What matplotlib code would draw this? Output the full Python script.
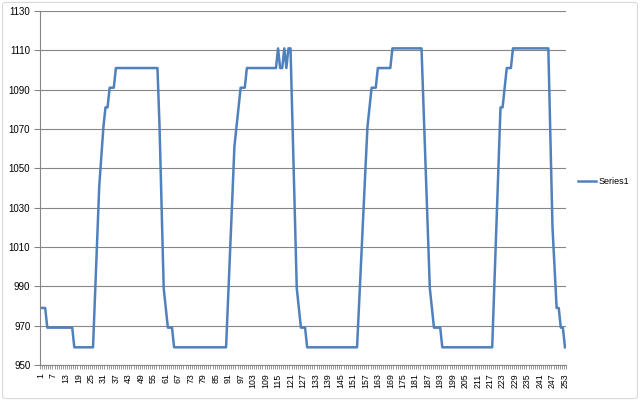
import matplotlib

matplotlib.use("Agg")
import matplotlib.pyplot as plt
from matplotlib.patches import FancyBboxPatch

# values, one per category (1..257)
cycle_1 = [
    979, 979, 979,
    969, 969, 969, 969, 969, 969, 969, 969, 969, 969, 969, 969, 969,
    959, 959, 959, 959, 959, 959, 959, 959, 959, 959,
    986, 1014, 1041, 1056, 1071, 1081, 1081, 1091, 1091, 1091,
    1101, 1101, 1101, 1101, 1101, 1101, 1101, 1101, 1101, 1101, 1101,
    1101, 1101, 1101, 1101, 1101, 1101, 1101, 1101, 1101, 1101,
    1071, 1030, 989, 979, 969, 969, 969,
]
cycle_2 = [
    959, 959, 959, 959, 959, 959, 959, 959, 959, 959, 959, 959, 959,
    959, 959, 959, 959, 959, 959, 959, 959, 959, 959, 959, 959, 959,
    984, 1010, 1035, 1061, 1071, 1081, 1091, 1091, 1091,
    1101, 1101, 1101, 1101, 1101, 1101, 1101, 1101, 1101, 1101, 1101,
    1101, 1101, 1101, 1101,
    1111, 1101, 1101, 1111, 1101, 1111, 1111,
    1070, 1030, 989, 979, 969, 969, 969,
]
cycle_3 = [
    959, 959, 959, 959, 959, 959, 959, 959, 959, 959, 959, 959, 959,
    959, 959, 959, 959, 959, 959, 959, 959, 959, 959, 959, 959,
    981, 1004, 1027, 1049, 1071, 1081, 1091, 1091, 1091,
    1101, 1101, 1101, 1101, 1101, 1101, 1101,
    1111, 1111, 1111, 1111, 1111, 1111, 1111, 1111, 1111, 1111, 1111,
    1111, 1111, 1111, 1111,
    1080, 1050, 1020, 989, 979, 969, 969, 969, 969,
]
cycle_4 = [
    959, 959, 959, 959, 959, 959, 959, 959, 959, 959, 959, 959, 959,
    959, 959, 959, 959, 959, 959, 959, 959, 959, 959, 959, 959,
    990, 1020, 1050, 1081, 1081, 1091, 1101, 1101, 1101,
    1111, 1111, 1111, 1111, 1111, 1111, 1111, 1111, 1111, 1111, 1111,
    1111, 1111, 1111, 1111, 1111, 1111, 1111,
    1065, 1020, 1000, 979, 979, 969, 969, 959,
]
series1 = cycle_1 + cycle_2 + cycle_3 + cycle_4
categories = list(range(1, len(series1) + 1))
y_ticks = [950, 970, 990, 1010, 1030, 1050, 1070, 1090, 1110, 1130]

GRID = "#868686"

plt.rcParams["font.family"] = ["Liberation Sans", "DejaVu Sans"]

fig = plt.figure(figsize=(6.4, 4.01), dpi=100)
ax = fig.add_axes((40 / 640, 1 - 365 / 401, 526 / 640, 354 / 401))

ax.plot(categories, series1, color="#4F81BD", lw=1.8, solid_joinstyle="round",
        label="Series1")

ax.set_xlim(0.5, len(series1) + 0.5)
ax.set_ylim(950, 1130)
ax.set_yticks(y_ticks)
ax.yaxis.grid(True, color=GRID, lw=0.8)
ax.set_axisbelow(True)

# category labels every 6th point, tick marks between every category
ax.set_xticks(categories[::6])
ax.set_xticklabels([str(c) for c in categories[::6]], rotation=90)
ax.set_xticks([c - 0.5 for c in categories] + [len(series1) + 0.5], minor=True)
ax.tick_params(axis="x", which="major", length=0, pad=6, labelsize=6.3)
ax.tick_params(axis="x", which="minor", length=3, color=GRID, width=0.6)
ax.tick_params(axis="y", length=4, color=GRID, width=0.8, labelsize=7, pad=3)

for side in ("top", "right"):
    ax.spines[side].set_visible(False)
for side in ("left", "bottom"):
    ax.spines[side].set_color(GRID)
    ax.spines[side].set_linewidth(0.8)

fig.legend(loc="center left", bbox_to_anchor=(570 / 640, 1 - 182 / 401),
           frameon=False, fontsize=6.5, handlelength=2.0, handletextpad=0.3)

fig.patches.append(FancyBboxPatch((0.004, 0.006), 0.992, 0.988,
                                  boxstyle="round,pad=0,rounding_size=0.006",
                                  transform=fig.transFigure, fill=False,
                                  edgecolor="#D9D9D9", lw=0.8))

fig.savefig("out.png", dpi=100)
